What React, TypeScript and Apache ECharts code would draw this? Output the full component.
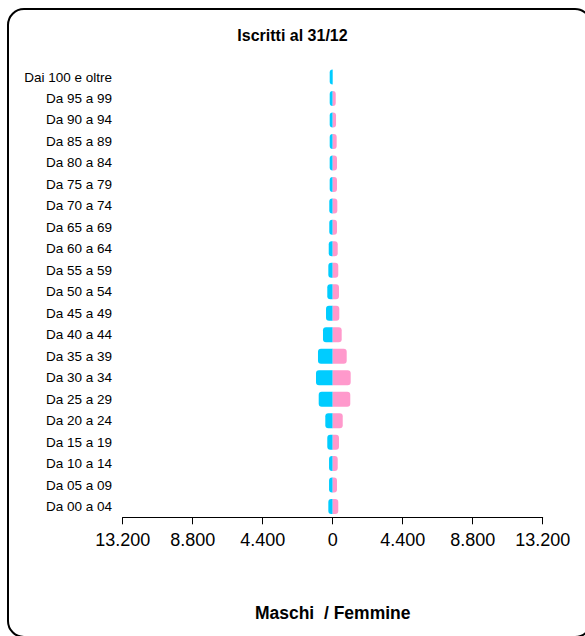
import React, { useEffect, useRef } from "react";
import * as echarts from "echarts";

const categories = [
  "Dai 100 e oltre", "Da 95 a 99", "Da 90 a 94", "Da 85 a 89", "Da 80 a 84",
  "Da 75 a 79", "Da 70 a 74", "Da 65 a 69", "Da 60 a 64", "Da 55 a 59",
  "Da 50 a 54", "Da 45 a 49", "Da 40 a 44", "Da 35 a 39", "Da 30 a 34",
  "Da 25 a 29", "Da 20 a 24", "Da 15 a 19", "Da 10 a 14", "Da 05 a 09",
  "Da 00 a 04",
];
const maschi = [60, 20, 125, 150, 190, 190, 215, 215, 250, 275, 340, 420, 610, 925, 1050, 880, 465, 340, 230, 230, 275];
const femmine = [0, 190, 210, 250, 270, 270, 290, 270, 315, 350, 395, 415, 565, 880, 1130, 1105, 630, 395, 315, 270, 350];

const FONT = "'Liberation Sans', Arial, sans-serif";

function fmt(v: number): string {
  const s = String(Math.abs(Math.round(v)));
  return s.replace(/\B(?=(\d{3})+(?!\d))/g, ".");
}

export default function App() {
  const ref = useRef<HTMLDivElement>(null);
  useEffect(() => {
    if (!ref.current) return;
    const chart = echarts.init(ref.current, undefined, { renderer: "svg" });
    chart.setOption({
      animation: false,
      textStyle: { fontFamily: FONT },
      title: {
        text: "Iscritti al 31/12",
        left: 287.5,
        textAlign: "center",
        top: 22,
        textStyle: { fontFamily: FONT, fontSize: 16, fontWeight: "bold", color: "#000" },
      },
      grid: { left: 122.7, right: 42.3, top: 66.3, height: 451, containLabel: false },
      xAxis: {
        type: "value",
        min: -13200,
        max: 13200,
        interval: 4400,
        splitLine: { show: false },
        axisLine: { show: true, lineStyle: { color: "#000", width: 1 } },
        axisTick: { show: true, length: 7, lineStyle: { color: "#000" } },
        axisLabel: {
          formatter: (v: number) => fmt(v),
          fontSize: 18,
          color: "#000",
          margin: 14,
          fontFamily: FONT,
        },
        name: "Maschi  / Femmine",
        nameLocation: "middle",
        nameGap: 87,
        nameTextStyle: { fontFamily: FONT, fontSize: 17.5, fontWeight: "bold", color: "#000" },
      },
      yAxis: {
        type: "category",
        data: categories,
        inverse: true,
        axisLine: { show: false, onZero: false },
        axisTick: { show: false },
        axisLabel: { fontSize: 13.5, color: "#000", margin: 10.7, fontFamily: FONT },
      },
      series: [
        {
          name: "Maschi",
          type: "bar",
          stack: "tot",
          barWidth: 15,
          barMinHeight: 3,
          data: maschi.map((v) => -v),
          itemStyle: { color: "#00CCFF", borderRadius: [3, 0, 0, 3] },
        },
        {
          name: "Femmine",
          type: "bar",
          stack: "tot",
          barWidth: 15,
          data: femmine,
          itemStyle: { color: "#FF99CC", borderRadius: [0, 3, 3, 0] },
        },
      ],
    });
    return () => chart.dispose();
  }, []);
  return (
    <div style={{ position: "fixed", left: 0, top: 0, width: 585, height: 636, overflow: "hidden", background: "#fff" }}>
      <div
        style={{
          position: "absolute",
          left: 7,
          top: 7.5,
          width: 585,
          height: 630,
          border: "2px solid #000",
          borderRadius: 17,
          boxSizing: "border-box",
        }}
      />
      <div ref={ref} style={{ position: "absolute", left: 0, top: 0, width: 585, height: 636 }} />
    </div>
  );
}
